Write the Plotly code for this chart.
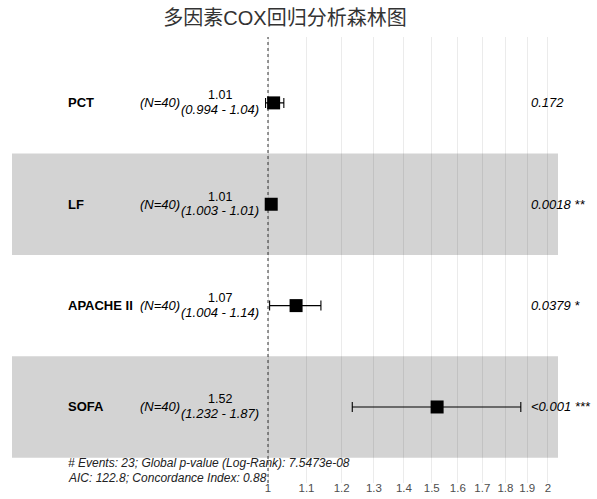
import plotly.graph_objects as go

variables = ["PCT", "LF", "APACHE II", "SOFA"]
n_obs = [40, 40, 40, 40]
hr = [1.014, 1.008, 1.072, 1.52]
ci_low = [0.994, 1.003, 1.004, 1.232]
ci_high = [1.04, 1.01, 1.14, 1.87]
hr_labels = ["1.01", "1.01", "1.07", "1.52"]
ci_labels = ["(0.994 - 1.04)", "(1.003 - 1.01)", "(1.004 - 1.14)", "(1.232 - 1.87)"]
p_labels = ["0.172", "0.0018 **", "0.0379 *", "<0.001 ***"]
row_pos = [4, 3, 2, 1]
tick_vals = [1, 1.1, 1.2, 1.3, 1.4, 1.5, 1.6, 1.7, 1.8, 1.9, 2]
tick_text = ["1", "1.1", "1.2", "1.3", "1.4", "1.5", "1.6", "1.7", "1.8", "1.9", "2"]
footer = ["# Events: 23; Global p-value (Log-Rank): 7.5473e-08",
          "AIC: 122.8; Concordance Index: 0.88"]
title = "多因素COX回归分析森林图"

W, H = 597, 499
FONT = "Liberation Sans, Arial, Noto Sans CJK SC, sans-serif"
YMIN, YMAX = 0.25, 4.65
ROWPX = 101.3

fig = go.Figure()

# reference line at HR = 1
fig.add_trace(go.Scatter(x=[1, 1], y=[YMIN, YMAX], mode="lines",
                         line=dict(color="#333333", width=1, dash="dot"),
                         hoverinfo="skip", showlegend=False))

fig.add_trace(go.Scatter(
    x=hr, y=row_pos, mode="markers",
    marker=dict(symbol="square", size=13, color="black"),
    error_x=dict(type="data", symmetric=False,
                 array=[h - m for h, m in zip(ci_high, hr)],
                 arrayminus=[m - l for m, l in zip(hr, ci_low)],
                 color="#000000", thickness=1.1, width=5),
    showlegend=False))

shapes = []
for i, r in enumerate(row_pos):
    if i % 2 == 1:
        shapes.append(dict(type="rect", xref="paper", yref="y",
                           x0=12 / W, x1=558 / W, y0=r - 0.5, y1=r + 0.5,
                           fillcolor="#d3d3d3", line=dict(width=0), layer="below"))

ann = []
for i, r in enumerate(row_pos):
    ann.append(dict(x=66 / W, y=r, xref="paper", yref="y", text="<b>%s</b>" % variables[i],
                    showarrow=False, xanchor="left", font=dict(size=13, color="black", family=FONT)))
    ann.append(dict(x=138 / W, y=r, xref="paper", yref="y", text="<i>(N=%d)</i>" % n_obs[i],
                    showarrow=False, xanchor="left", font=dict(size=13, color="black", family=FONT)))
    ann.append(dict(x=220 / W, y=r + 7.5 / ROWPX, xref="paper", yref="y", text=hr_labels[i],
                    showarrow=False, xanchor="center", borderpad=0,
                    font=dict(size=12.5, color="black", family=FONT)))
    ann.append(dict(x=220 / W, y=r - 6.5 / ROWPX, xref="paper", yref="y", text="<i>%s</i>" % ci_labels[i],
                    showarrow=False, xanchor="center", borderpad=0,
                    font=dict(size=13, color="black", family=FONT)))
    ann.append(dict(x=529 / W, y=r, xref="paper", yref="y", text="<i>%s</i>" % p_labels[i],
                    showarrow=False, xanchor="left", font=dict(size=13, color="black", family=FONT)))

ann.append(dict(x=66 / W, y=YMIN + 20 / ROWPX, xref="paper", yref="y", text="<i>%s</i>" % footer[0],
                showarrow=False, xanchor="left", font=dict(size=12, color="#222222", family=FONT)))
ann.append(dict(x=66 / W, y=YMIN + 5 / ROWPX, xref="paper", yref="y", text="<i>%s</i>" % footer[1],
                showarrow=False, xanchor="left", font=dict(size=12, color="#222222", family=FONT)))

fig.update_layout(
    width=W, height=H,
    margin=dict(l=0, r=0, t=37, b=16),
    paper_bgcolor="white", plot_bgcolor="rgba(0,0,0,0)",
    title=dict(text=title, x=285 / W, xanchor="center", y=1 - 18 / H, yanchor="middle",
               font=dict(size=20, color="#333333", family=FONT)),
    shapes=shapes, annotations=ann,
    xaxis=dict(type="log", range=[-268 / 930, 329 / 930], tickvals=tick_vals, ticktext=tick_text,
               showgrid=True, gridcolor="rgba(0,0,0,0.08)", gridwidth=1, zeroline=False,
               showline=False, ticks="", ticklabelstandoff=-4,
               tickfont=dict(size=11.5, color="#4d4d4d", family=FONT)),
    yaxis=dict(range=[YMIN, YMAX], showgrid=False, zeroline=False, showticklabels=False,
               showline=False, ticks=""),
)

fig.write_html("out.html", config={"displayModeBar": False},
               post_script="document.body.style.margin='0';")
